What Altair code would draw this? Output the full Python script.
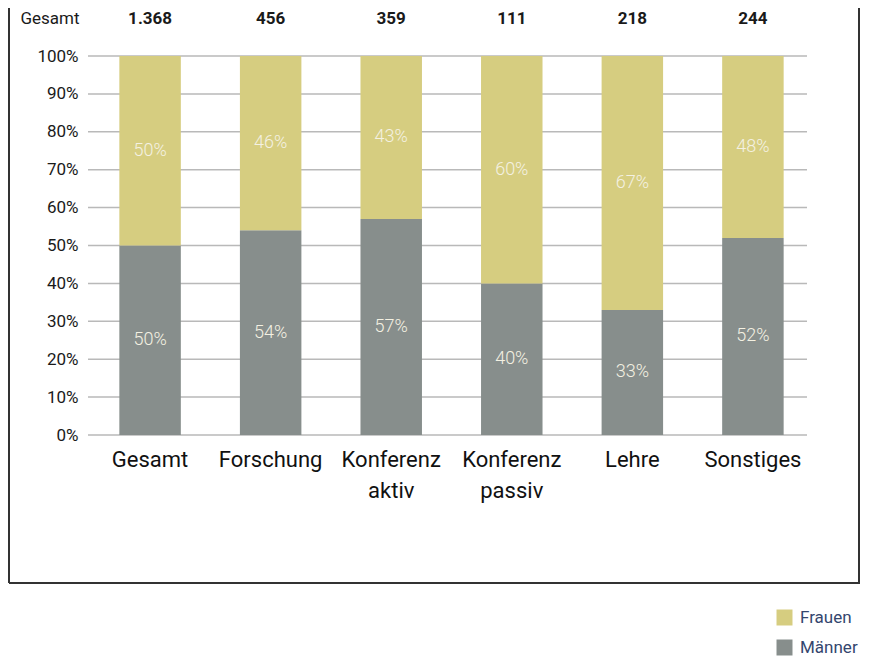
import altair as alt
import pandas as pd

categories = ["Gesamt", "Forschung", "Konferenz aktiv", "Konferenz passiv", "Lehre", "Sonstiges"]
frauen = [50, 46, 43, 60, 67, 48]
maenner = [50, 54, 57, 40, 33, 52]
totals = [1368, 456, 359, 111, 218, 244]
y_ticks = [0, 10, 20, 30, 40, 50, 60, 70, 80, 90, 100]
series = ["Frauen", "Männer"]
colors = ["#d6cd80", "#878e8c"]

FONT = "Roboto"

rows = []
for c, f, m in zip(categories, frauen, maenner):
    rows.append({"cat": c, "gender": "Männer", "value": m, "ord": 0})
    rows.append({"cat": c, "gender": "Frauen", "value": f, "ord": 1})
df = pd.DataFrame(rows)

tot_df = pd.DataFrame({"cat": categories,
                       "label": [f"{t:,}".replace(",", ".") for t in totals]})
grid_df = pd.DataFrame({"v": y_ticks})

W, H = 727, 379

xscale = alt.Scale(domain=categories, paddingInner=0.49, paddingOuter=0.26)
yscale = alt.Scale(domain=[0, 100])
yaxis = alt.Axis(values=y_ticks, labelExpr="datum.value + '%'", grid=False,
                 domain=False, ticks=False, labelFont=FONT, labelFontSize=17,
                 labelColor="#1a1a1a", labelPadding=10, title=None,
                 labelOverlap=False)

grid = alt.Chart(grid_df).mark_rule(color="#b9b9b9", strokeWidth=1.5).encode(
    y=alt.Y("v:Q", scale=yscale, axis=yaxis, title=None),
    x=alt.value(0), x2=alt.value(719),
)

bars = alt.Chart(df).mark_bar().encode(
    x=alt.X("cat:N", scale=xscale, sort=categories,
            axis=alt.Axis(labelExpr="split(datum.label, ' ')", labelAngle=0,
                          labelFont=FONT, labelFontSize=22, labelColor="#111111",
                          labelLineHeight=31, labelPadding=14, domain=False,
                          ticks=False, grid=False, title=None)),
    y=alt.Y("value:Q", scale=yscale, stack="zero", axis=yaxis, title=None),
    color=alt.Color("gender:N", scale=alt.Scale(domain=series, range=colors),
                    legend=alt.Legend(orient="none", legendX=688, legendY=553,
                                      title=None, symbolType="square", symbolSize=256,
                                      symbolStrokeWidth=0, labelFont=FONT,
                                      labelFontSize=17, labelColor="#34466e",
                                      labelOffset=7, rowPadding=12)),
    order=alt.Order("ord:Q"),
)

seg_labels = alt.Chart(df).transform_stack(
    stack="value", groupby=["cat"], as_=["v0", "v1"], sort=[alt.SortField("ord")]
).transform_calculate(
    mid="(datum.v0 + datum.v1) / 2", txt="datum.value + '%'"
).mark_text(font=FONT, fontSize=18, fontWeight=300, color="#f4f1e2",
            baseline="middle").encode(
    x=alt.X("cat:N", scale=xscale, sort=categories),
    y=alt.Y("mid:Q", scale=yscale, axis=yaxis, title=None),
    text="txt:N",
)

top_labels = alt.Chart(tot_df).mark_text(
    font=FONT, fontSize=17, fontWeight="bold", color="#1a1a1a", baseline="middle"
).encode(
    x=alt.X("cat:N", scale=xscale, sort=categories),
    y=alt.value(-37),
    text="label:N",
)

gesamt_lbl = alt.Chart(pd.DataFrame({"t": ["Gesamt"]})).mark_text(
    font=FONT, fontSize=17, color="#1a1a1a", baseline="middle"
).encode(x=alt.value(-38), y=alt.value(-37), text="t:N")

frame_df = pd.DataFrame({"k": [0]})
left_line = alt.Chart(frame_df).mark_rule(color="#333333", strokeWidth=2).encode(
    x=alt.value(-79), y=alt.value(-48), y2=alt.value(527))
right_line = alt.Chart(frame_df).mark_rule(color="#333333", strokeWidth=2).encode(
    x=alt.value(771), y=alt.value(-48), y2=alt.value(527))
bottom_line = alt.Chart(frame_df).mark_rule(color="#333333", strokeWidth=2).encode(
    x=alt.value(-79), x2=alt.value(772), y=alt.value(527))

chart = alt.layer(
    grid, bars, seg_labels, top_labels, gesamt_lbl, left_line, right_line, bottom_line
).resolve_axis(y="shared").properties(
    width=W, height=H,
    background="white",
    autosize=alt.AutoSizeParams(type="none"),
    padding={"left": 80, "top": 48, "right": 46, "bottom": 221},
).configure_view(stroke=None)

chart.save("out.html", embed_options={"renderer": "svg", "actions": False})
